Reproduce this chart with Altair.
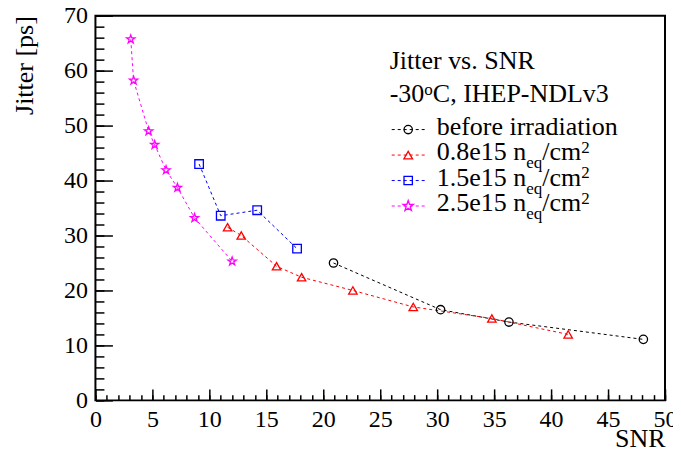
import altair as alt
import pandas as pd

FONT = "Liberation Serif"

# ---- data ----
series_names = ["before irradiation", "0.8e15", "1.5e15", "2.5e15"]
series_colors = ["#000000", "#ff0000", "#0000ff", "#ff00ff"]

snr_before = [20.9, 30.3, 36.3, 48.1]
jit_before = [25.0, 16.5, 14.25, 11.1]

snr_08 = [11.6, 12.8, 15.9, 18.1, 22.6, 27.9, 34.8, 41.5]
jit_08 = [31.5, 30.0, 24.4, 22.4, 20.0, 17.0, 14.9, 12.0]

snr_15 = [9.1, 11.0, 14.2, 17.7]
jit_15 = [43.0, 33.6, 34.6, 27.6]

snr_25 = [3.1, 3.35, 4.67, 5.2, 6.2, 7.2, 8.7, 12.0]
jit_25 = [65.7, 58.2, 49.0, 46.5, 41.9, 38.7, 33.2, 25.3]

x_ticks_major = list(range(0, 51, 5))
x_ticks_minor = list(range(0, 51, 1))
y_ticks_major = list(range(0, 71, 10))
y_ticks_minor = list(range(0, 71, 2))

STAR = ("M0,-1L0.235,-0.324L0.951,-0.309L0.380,0.124L0.588,0.809L0,0.4"
        "L-0.588,0.809L-0.380,0.124L-0.951,-0.309L-0.235,-0.324Z")
series_shapes = ["circle", "triangle-up", "square", STAR]
series_sizes = [70, 75, 70, 120]

rows = []
for name, xs, ys in zip(series_names,
                        [snr_before, snr_08, snr_15, snr_25],
                        [jit_before, jit_08, jit_15, jit_25]):
    for i, (a, b) in enumerate(zip(xs, ys)):
        rows.append({"series": name, "snr": a, "jitter": b, "idx": i})
df = pd.DataFrame(rows)

W, H = 570, 385

xs = alt.Scale(domain=[0, 50], nice=False, zero=False)
ys = alt.Scale(domain=[0, 70], nice=False, zero=False)
color = alt.Color("series:N", scale=alt.Scale(domain=series_names, range=series_colors), legend=None)
shape = alt.Shape("series:N", scale=alt.Scale(domain=series_names, range=series_shapes), legend=None)
size = alt.Size("series:N", scale=alt.Scale(domain=series_names, range=series_sizes), legend=None)

ax_x_lab = alt.Axis(orient="bottom", values=x_ticks_major, ticks=False, domain=False, grid=False,
                    labelFont=FONT, labelFontSize=24, labelColor="black", labelPadding=7,
                    labelFlush=False, labelOverlap=False,
                    title="SNR", titleFont=FONT, titleFontSize=26, titleFontWeight="normal",
                    titleColor="black", titleAlign="right", titleAnchor="end",
                    titleBaseline="alphabetic", titleX=W, titleY=46)
ax_y_lab = alt.Axis(orient="left", values=y_ticks_major, ticks=False, domain=False, grid=False,
                    labelFont=FONT, labelFontSize=24, labelColor="black", labelPadding=8,
                    labelFlush=False, labelOverlap=False,
                    title="Jitter [ps]", titleFont=FONT, titleFontSize=26, titleFontWeight="normal",
                    titleColor="black", titleAngle=270, titleAlign="right",
                    titleBaseline="alphabetic", titleX=-62.5, titleY=0)


def tick_axis(orient, vals, length):
    return alt.Axis(orient=orient, values=vals, labels=False, domain=False, grid=False,
                    ticks=True, tickSize=length, offset=-length, tickColor="black",
                    tickWidth=1.5, title=None)


lines = alt.Chart(df).mark_line(strokeDash=[3, 3], strokeWidth=1).encode(
    x=alt.X("snr:Q", scale=xs, axis=ax_x_lab),
    y=alt.Y("jitter:Q", scale=ys, axis=ax_y_lab),
    color=color,
    order=alt.Order("idx:Q"),
)
points = alt.Chart(df).mark_point(filled=False, strokeWidth=1.3, opacity=1).encode(
    x=alt.X("snr:Q", scale=xs, axis=tick_axis("bottom", x_ticks_major, 11.5)),
    y=alt.Y("jitter:Q", scale=ys, axis=tick_axis("left", y_ticks_major, 17)),
    color=color, shape=shape, size=size,
)
minor = alt.Chart(df).mark_point(opacity=0).encode(
    x=alt.X("snr:Q", scale=xs, axis=tick_axis("bottom", x_ticks_minor, 5.75)),
    y=alt.Y("jitter:Q", scale=ys, axis=tick_axis("left", y_ticks_minor, 8.5)),
)

# ---- legend drawn as text pieces (for sub/superscripts) ----
TW = {'0': .5, '1': .5, '2': .5, '3': .5, '4': .5, '5': .5, '6': .5, '7': .5, '8': .5, '9': .5,
      '.': .25, 'e': .444, 'n': .5, ' ': .25, 'q': .5, '/': .278, 'c': .444, 'm': .778,
      '-': .333, 'o': .5, 'C': .667}


def tw(s, fs):
    return sum(TW.get(ch, .5) for ch in s) * fs


one = pd.DataFrame({"a": [0]})
FS, FSS = 26, 17


def txt(s, x, y, fs=FS):
    return alt.Chart(one).mark_text(text=s, align="left", baseline="alphabetic", font=FONT,
                                    fontSize=fs, color="black").encode(
        x=alt.value(x), y=alt.value(y))


leg = []
hx = 294.5
leg.append(txt("Jitter vs. SNR", hx, 53.8))
leg.append(txt("-30", hx, 86.2))
ox = hx + tw("-30", FS)
leg.append(txt("o", ox, 79.5, FSS))
leg.append(txt("C, IHEP-NDLv3", ox + tw("o", FSS), 86.2))

entry_labels = ["before irradiation", "0.8e15", "1.5e15", "2.5e15"]
baselines = [119, 144.5, 170, 195.5]
tx = 341.5
for i, lab in enumerate(entry_labels):
    yb = baselines[i]
    leg.append(alt.Chart(one).mark_rule(strokeDash=[3, 3], strokeWidth=1, color=series_colors[i]).encode(
        x=alt.value(296.5), x2=alt.value(329.5), y=alt.value(yb - 5)))
    leg.append(alt.Chart(one).mark_point(filled=False, strokeWidth=1.3, opacity=1,
                                         shape=series_shapes[i], size=series_sizes[i],
                                         color=series_colors[i]).encode(
        x=alt.value(313), y=alt.value(yb - 5)))
    if i == 0:
        leg.append(txt(lab, tx, yb))
    else:
        s1 = lab + " n"
        leg.append(txt(s1, tx, yb))
        x2 = tx + tw(s1, FS)
        leg.append(txt("eq", x2, yb + 8, FSS))
        x3 = x2 + tw("eq", FSS)
        leg.append(txt("/cm", x3, yb))
        x4 = x3 + tw("/cm", FS)
        leg.append(txt("2", x4, yb - 7.5, FSS))

chart = alt.layer(lines, points, minor, *leg).resolve_axis(
    x="independent", y="independent"
).properties(
    width=W, height=H,
    autosize=alt.AutoSizeParams(type="none"),
    padding={"left": 87.5, "top": 7.5, "right": 8, "bottom": 58},
    background="white",
).configure_view(stroke="black", strokeWidth=2)

chart.save("out.html", embed_options={"renderer": "svg", "actions": False})
